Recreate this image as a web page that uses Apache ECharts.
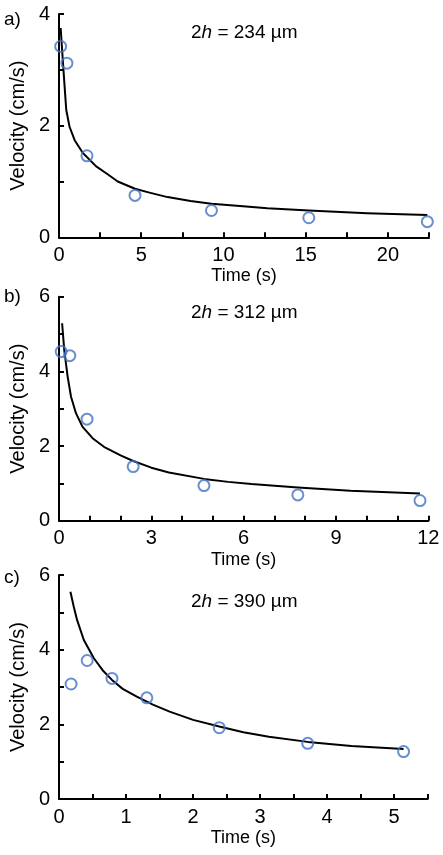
<!DOCTYPE html>
<html>
<head>
<meta charset="utf-8">
<script src="https://cdn.jsdelivr.net/npm/echarts@6/dist/echarts.min.js"></script>
<style>
html,body{margin:0;padding:0;background:#fff;}
#chart{width:443px;height:855px;}
</style>
</head>
<body>
<div id="chart"></div>
<script>
// Panel a) 2h = 234 µm
const timeA = [0.10, 0.48, 1.70, 4.62, 9.27, 15.19, 22.40];
const velA  = [3.42, 3.12, 1.46, 0.75, 0.48, 0.35, 0.28];
const fitTimeA = [0.10, 0.20, 0.34, 0.44, 0.64, 0.95, 1.45, 2.26, 3.00, 3.57, 4.62, 5.50, 6.60, 8.00, 9.27, 11.00, 12.67, 15.19, 18.73, 22.40];
const fitVelA  = [3.75, 3.30, 2.70, 2.28, 1.98, 1.74, 1.51, 1.27, 1.12, 1.00, 0.87, 0.80, 0.72, 0.65, 0.60, 0.56, 0.52, 0.48, 0.43, 0.40];

// Panel b) 2h = 312 µm
const timeB = [0.07, 0.35, 0.91, 2.41, 4.71, 7.76, 11.73];
const velB  = [4.53, 4.42, 2.72, 1.45, 0.94, 0.69, 0.54];
const fitTimeB = [0.10, 0.17, 0.28, 0.39, 0.55, 0.76, 1.09, 1.46, 2.00, 2.41, 3.00, 3.57, 4.71, 5.50, 6.25, 7.76, 9.47, 11.73];
const fitVelB  = [5.29, 4.57, 3.86, 3.32, 2.88, 2.52, 2.21, 1.98, 1.75, 1.60, 1.42, 1.29, 1.12, 1.04, 0.98, 0.89, 0.80, 0.73];

// Panel c) 2h = 390 µm
const timeC = [0.18, 0.42, 0.79, 1.31, 2.39, 3.71, 5.14];
const velC  = [3.08, 3.71, 3.23, 2.71, 1.91, 1.49, 1.27];
const fitTimeC = [0.17, 0.22, 0.27, 0.37, 0.52, 0.65, 0.79, 0.95, 1.16, 1.40, 1.65, 2.00, 2.39, 2.75, 3.13, 3.71, 4.36, 5.14];
const fitVelC  = [5.55, 5.15, 4.79, 4.26, 3.77, 3.45, 3.19, 2.95, 2.74, 2.53, 2.34, 2.12, 1.94, 1.79, 1.67, 1.53, 1.42, 1.34];

// Axis settings (ranges / label steps)
const panelLetters = ['a)', 'b)', 'c)'];
const gapLabels = ['234', '312', '390'];
const xMax = [22.5, 12, 5.5];
const xTickStep = [2.5, 1, 0.5];
const xLabelStep = [5, 3, 1];
const yMax = [4, 6, 6];
const yTickStep = [1, 1, 1];
const yLabelStep = [2, 2, 2];

const FONT = 'Arial, "Liberation Sans", Helvetica, sans-serif';
const BLUE = '#4472c4';

const grids = [
  {left: 57.7, top: 14, width: 371.3, height: 223.3},
  {left: 56, top: 296.7, width: 372.3, height: 224},
  {left: 55, top: 575, width: 372.7, height: 224}
];
const titleTops = [18, 298, 587];
const letterTops = [10, 287, 568];

const scatterData = [timeA.map((t,i)=>[t, velA[i]]), timeB.map((t,i)=>[t, velB[i]]), timeC.map((t,i)=>[t, velC[i]])];
const fitData = [fitTimeA.map((t,i)=>[t, fitVelA[i]]), fitTimeB.map((t,i)=>[t, fitVelB[i]]), fitTimeC.map((t,i)=>[t, fitVelC[i]])];

function isMultiple(v, step){
  const r = v / step;
  return Math.abs(r - Math.round(r)) < 1e-6;
}

const axisCommon = {
  axisLine: {lineStyle: {color: '#000', width: 2}},
  axisTick: {inside: true, length: 5, lineStyle: {color: '#000', width: 2}},
  splitLine: {show: false}
};

const option = {
  animation: false,
  backgroundColor: '#fff',
  grid: grids.map(g => Object.assign({containLabel: false}, g)),
  title: gapLabels.map((g, i) => ({
    text: '{n|2}{i|h}{n| = ' + g + ' µm}',
    left: 186,
    top: titleTops[i],
    textStyle: {
      fontWeight: 'normal',
      rich: {
        n: {fontSize: 19, fontFamily: FONT, color: '#000', fontWeight: 'normal'},
        i: {fontSize: 19, fontFamily: FONT, color: '#000', fontStyle: 'italic', fontWeight: 'normal'}
      }
    }
  })),
  graphic: panelLetters.map((l, i) => ({
    type: 'text', left: 4, top: letterTops[i],
    style: {text: l, fontSize: 19, fontFamily: FONT, fill: '#000'}
  })),
  xAxis: [0,1,2].map(i => Object.assign({}, axisCommon, {
    type: 'value', gridIndex: i, min: 0, max: xMax[i], interval: xTickStep[i],
    name: 'Time (s)', nameLocation: 'middle', nameGap: 30,
    nameTextStyle: {color: '#000', fontFamily: FONT, fontSize: 18},
    axisLabel: {
      color: '#000', fontSize: 20, fontFamily: FONT, margin: 8,
      formatter: v => isMultiple(v, xLabelStep[i]) ? String(Math.round(v)) : ''
    }
  })),
  yAxis: [0,1,2].map(i => Object.assign({}, axisCommon, {
    type: 'value', gridIndex: i, min: 0, max: yMax[i], interval: yTickStep[i],
    name: 'Velocity (cm/s)', nameLocation: 'middle', nameGap: 30,
    nameTextStyle: {color: '#000', fontFamily: FONT, fontSize: 20},
    axisLabel: {
      color: '#000', fontSize: 20, fontFamily: FONT, margin: 9,
      formatter: v => isMultiple(v, yLabelStep[i]) ? String(Math.round(v)) : ''
    }
  })),
  series: [0,1,2].flatMap(i => [
    {
      type: 'line', xAxisIndex: i, yAxisIndex: i, data: fitData[i],
      showSymbol: false, smooth: false,
      lineStyle: {color: '#000', width: 2, join: 'round'}, z: 2
    },
    {
      type: 'scatter', xAxisIndex: i, yAxisIndex: i, data: scatterData[i],
      symbol: 'circle', symbolSize: 11,
      itemStyle: {color: 'rgba(255,255,255,0)', borderColor: BLUE, borderWidth: 2}, z: 3
    }
  ])
};

const chart = echarts.init(document.getElementById('chart'), null, {renderer: 'canvas'});
chart.setOption(option);
</script>
</body>
</html>
